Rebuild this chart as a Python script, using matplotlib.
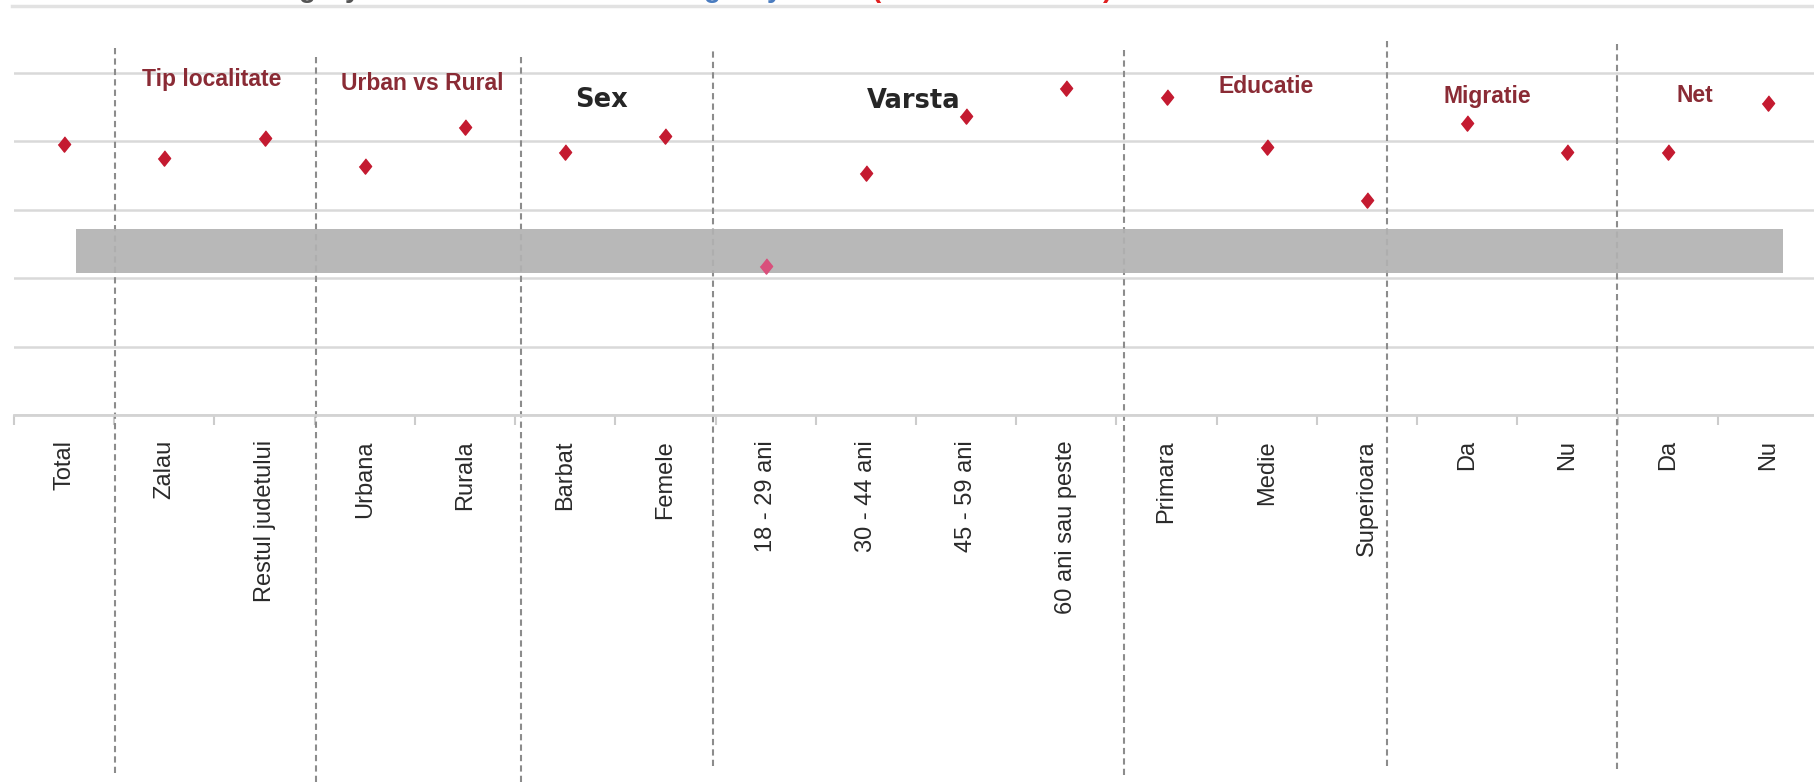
import numpy as np
import matplotlib.pyplot as plt
from matplotlib.lines import Line2D

# date
categorii = ["Total", "Zalau", "Restul judetului", "Urbana", "Rurala",
             "Barbat", "Femele", "18 - 29 ani", "30 - 44 ani", "45 - 59 ani",
             "60 ani sau peste", "Primara", "Medie", "Superioara",
             "Da", "Nu", "Da", "Nu"]
valori = [79.2, 75.2, 80.9, 72.7, 84.2, 76.8, 81.4, 43.5, 70.8, 87.4,
          95.4, 93.0, 78.4, 62.7, 85.4, 76.7, 76.9, 91.1]

grupe = ["Tip localitate", "Urban vs Rural", "Sex", "Varsta",
         "Educatie", "Migratie", "Net"]
grupe_x = [1.47, 3.57, 5.36, 8.48, 11.99, 14.20, 16.27]
grupe_y = [97.9, 96.9, 92.0, 91.8, 95.9, 93.0, 93.2]

separatori = [0.507, 2.511, 4.556, 6.473, 10.572, 13.196, 15.490]
sep_sus = [108.1, 104.6, 104.6, 107.2, 107.2, 110.1, 109.0]
sep_jos = [-104.6, -107.2, -107.2, -102.5, -105.2, -102.5, -103.4]

banda_x = [0.116, 17.15]
banda_y = [41.6, 54.3]

plt.rcParams['font.family'] = ['Liberation Sans', 'DejaVu Sans']

fig = plt.figure(figsize=(18.14, 7.82), dpi=100)
ax = fig.add_axes([14 / 1814, 367 / 782, 1804 / 1814, 404 / 782])

x = np.arange(len(categorii))
v = np.array(valori)

# banda gri si punctele
in_banda = (v >= banda_y[0]) & (v <= banda_y[1])
romb = [(0, 1), (0.8, 0), (0, -1), (-0.8, 0)]
ax.plot(x[~in_banda], v[~in_banda], linestyle='none', marker=romb, ms=11,
        color='#c41a30', zorder=3)
ax.fill_between(banda_x, banda_y[0], banda_y[1], color='#b2b2b2',
                alpha=0.92, lw=0, zorder=4)
ax.plot(x[in_banda], v[in_banda], linestyle='none', marker=romb, ms=11,
        color='#d9507c', zorder=5)

# separatori punctati
ax.vlines(separatori, sep_jos, sep_sus, colors='#8c8c8c', linewidth=1.5,
          linestyles=(0, (3, 2)), clip_on=False, zorder=2)

# etichete grupe
for i, g in enumerate(grupe):
    if g in ("Sex", "Varsta"):
        ax.text(grupe_x[i], grupe_y[i], g, ha='center', va='center',
                fontsize=18.5, fontweight='bold', color='#262626',
                family='DejaVu Sans', zorder=6)
    else:
        ax.text(grupe_x[i], grupe_y[i], g, ha='center', va='center',
                fontsize=16.5, fontweight='bold', color='#8a2b35', zorder=6)

ax.set_xlim(-0.5, len(categorii) - 0.5)
ax.set_ylim(0, 118)
ax.set_yticks([0, 20, 40, 60, 80, 100])
ax.yaxis.grid(True, color='#d9d9d9', linewidth=1.8)
ax.tick_params(axis='y', length=0, labelleft=False)
ax.set_axisbelow(True)

ax.set_xticks(x)
ax.set_xticklabels(categorii, rotation=90, fontsize=17, color='#2a2a2a')
ax.set_xticks(np.arange(-0.5, len(categorii), 1), minor=True)
ax.tick_params(axis='x', which='major', length=0, pad=18)
ax.tick_params(axis='x', which='minor', length=7, width=1.5, color='#cccccc')

for s in ['top', 'right', 'left']:
    ax.spines[s].set_visible(False)
ax.spines['bottom'].set_color('#d3d3d3')
ax.spines['bottom'].set_linewidth(2)

# linia de sus si resturile titlului taiat
fig.add_artist(Line2D([12 / 1814, 1.0], [1 - 6 / 782, 1 - 6 / 782],
                      color='#e2e2e2', linewidth=2.5))
titlu = [("g", 307, '#555555'), ("y", 353, '#555555'),
         ("g", 712, '#4a7cc0'), ("y", 775, '#4a7cc0'),
         ("(", 876, '#e02020'), (")", 1108, '#e02020')]
for t, px, c in titlu:
    fig.text(px / 1814, 1 + 3 / 782, t, ha='center', va='baseline',
             fontsize=20, fontweight='bold', color=c)

fig.savefig("out.png", dpi=100)
